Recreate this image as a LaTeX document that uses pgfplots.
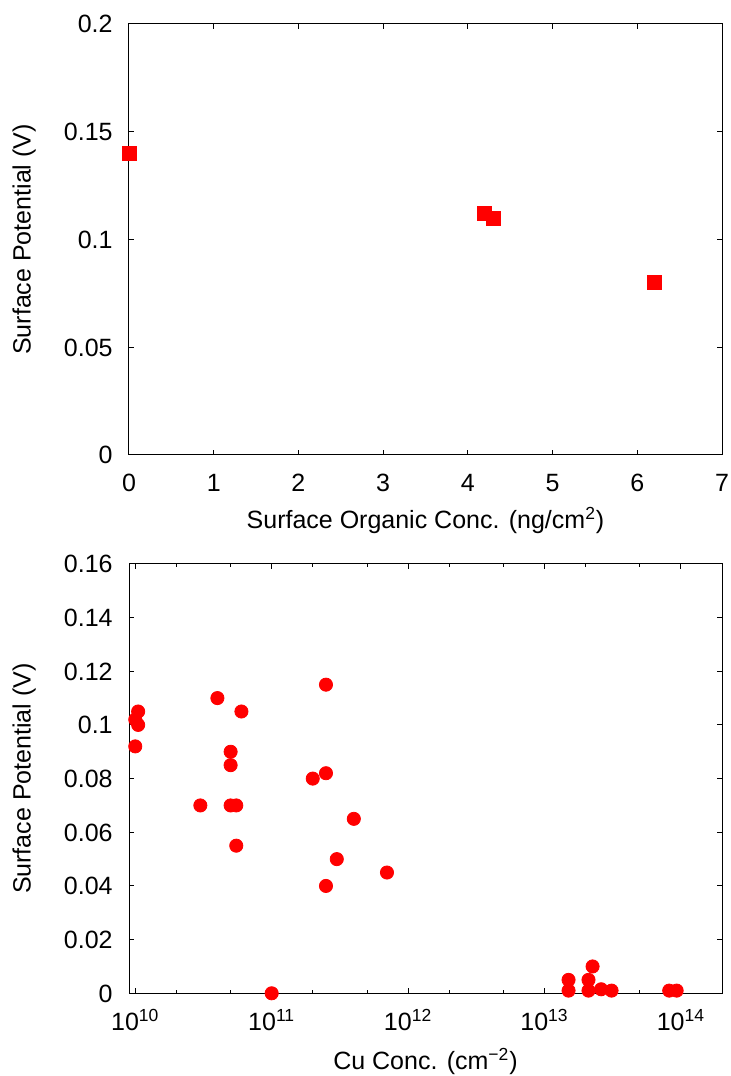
\documentclass[border=0pt]{standalone}
\usepackage{fontspec}
\setmainfont{Liberation Sans}
\usepackage{pgfplots}
\pgfplotsset{compat=1.18}
\definecolor{ptred}{RGB}{255,0,0}
\pgfplotsset{
  gstyle/.style={
    scale only axis,
    width=296.5pt,
    anchor=south west,
    clip=false,
    axis line style={black, line width=0.5pt},
    tick style={black, line width=0.5pt},
    tick align=inside,
    major tick length=2.6pt,
    minor tick length=1.5pt,
    xtick pos=both, ytick pos=both,
    xticklabel style={anchor=base, yshift=-18.5pt, inner sep=0pt},
    yticklabel style={anchor=base east, xshift=-8pt, yshift=-4.4pt, inner sep=0pt},
    every axis y label/.style={at={(axis description cs:-0.177,0.5)}, rotate=90, anchor=center},
  }
}
\begin{document}
\begin{tikzpicture}[font=\fontsize{12.5}{15}\selectfont]
\useasboundingbox (0,0) rectangle (365.5pt,538pt);
% top panel
\begin{axis}[gstyle,
  at={(64.5pt,310.5pt)},
  height=215.5pt,
  xmin=0, xmax=7, ymin=0, ymax=0.2,
  xtick={0,1,2,3,4,5,6,7},
  xticklabels={0,1,2,3,4,5,6,7},
  ytick={0,0.05,0.1,0.15,0.2},
  yticklabels={0,0.05,0.1,0.15,0.2},
  ylabel={Surface Potential (V)},
  xlabel={Surface Organic Conc. (ng/cm\textsuperscript{2})},
  every axis x label/.style={at={(axis description cs:0.5,0)}, anchor=base, yshift=-36.7pt},
]
\addplot[only marks, mark=square*, mark size=3.5pt, color=ptred] coordinates {
  (0,0.140) (4.2,0.112) (4.3,0.110) (6.2,0.080)
};
\end{axis}
% bottom panel
\begin{axis}[gstyle,
  at={(64.5pt,41.35pt)},
  height=214.7pt,
  xmode=log,
  xmin=9e9, xmax=2e14, ymin=0, ymax=0.16,
  xtick={1e10,1e11,1e12,1e13,1e14},
  xticklabels={10\textsuperscript{10},10\textsuperscript{11},10\textsuperscript{12},10\textsuperscript{13},10\textsuperscript{14}},
  minor xtick={2e10,5e10,2e11,5e11,2e12,5e12,2e13,5e13},
  ytick={0,0.02,0.04,0.06,0.08,0.1,0.12,0.14,0.16},
  yticklabels={0,0.02,0.04,0.06,0.08,0.1,0.12,0.14,0.16},
  ylabel={Surface Potential (V)},
  xlabel={Cu Conc. (cm\textsuperscript{−2})},
  every axis x label/.style={at={(axis description cs:0.5,0)}, anchor=base, yshift=-38pt},
]
\addplot[only marks, mark=*, mark size=3.3pt, color=ptred] coordinates {
  (1.0e10,0.092) (1.0e10,0.102) (1.05e10,0.105) (1.05e10,0.100)
  (4.0e10,0.110) (6.0e10,0.105) (5.0e10,0.090) (5.0e10,0.085)
  (3.0e10,0.070) (5.0e10,0.070) (5.5e10,0.070) (5.5e10,0.055)
  (2.5e11,0.115) (2.0e11,0.080) (2.5e11,0.082) (4.0e11,0.065)
  (3.0e11,0.050) (7.0e11,0.045) (2.5e11,0.040) (1.0e11,0.0)
  (1.5e13,0.005) (1.5e13,0.001) (2.1e13,0.005) (2.1e13,0.001)
  (2.25e13,0.010) (2.6e13,0.0015) (3.1e13,0.001) (8.2e13,0.001)
  (9.3e13,0.001)
};
\end{axis}
\end{tikzpicture}
\end{document}
